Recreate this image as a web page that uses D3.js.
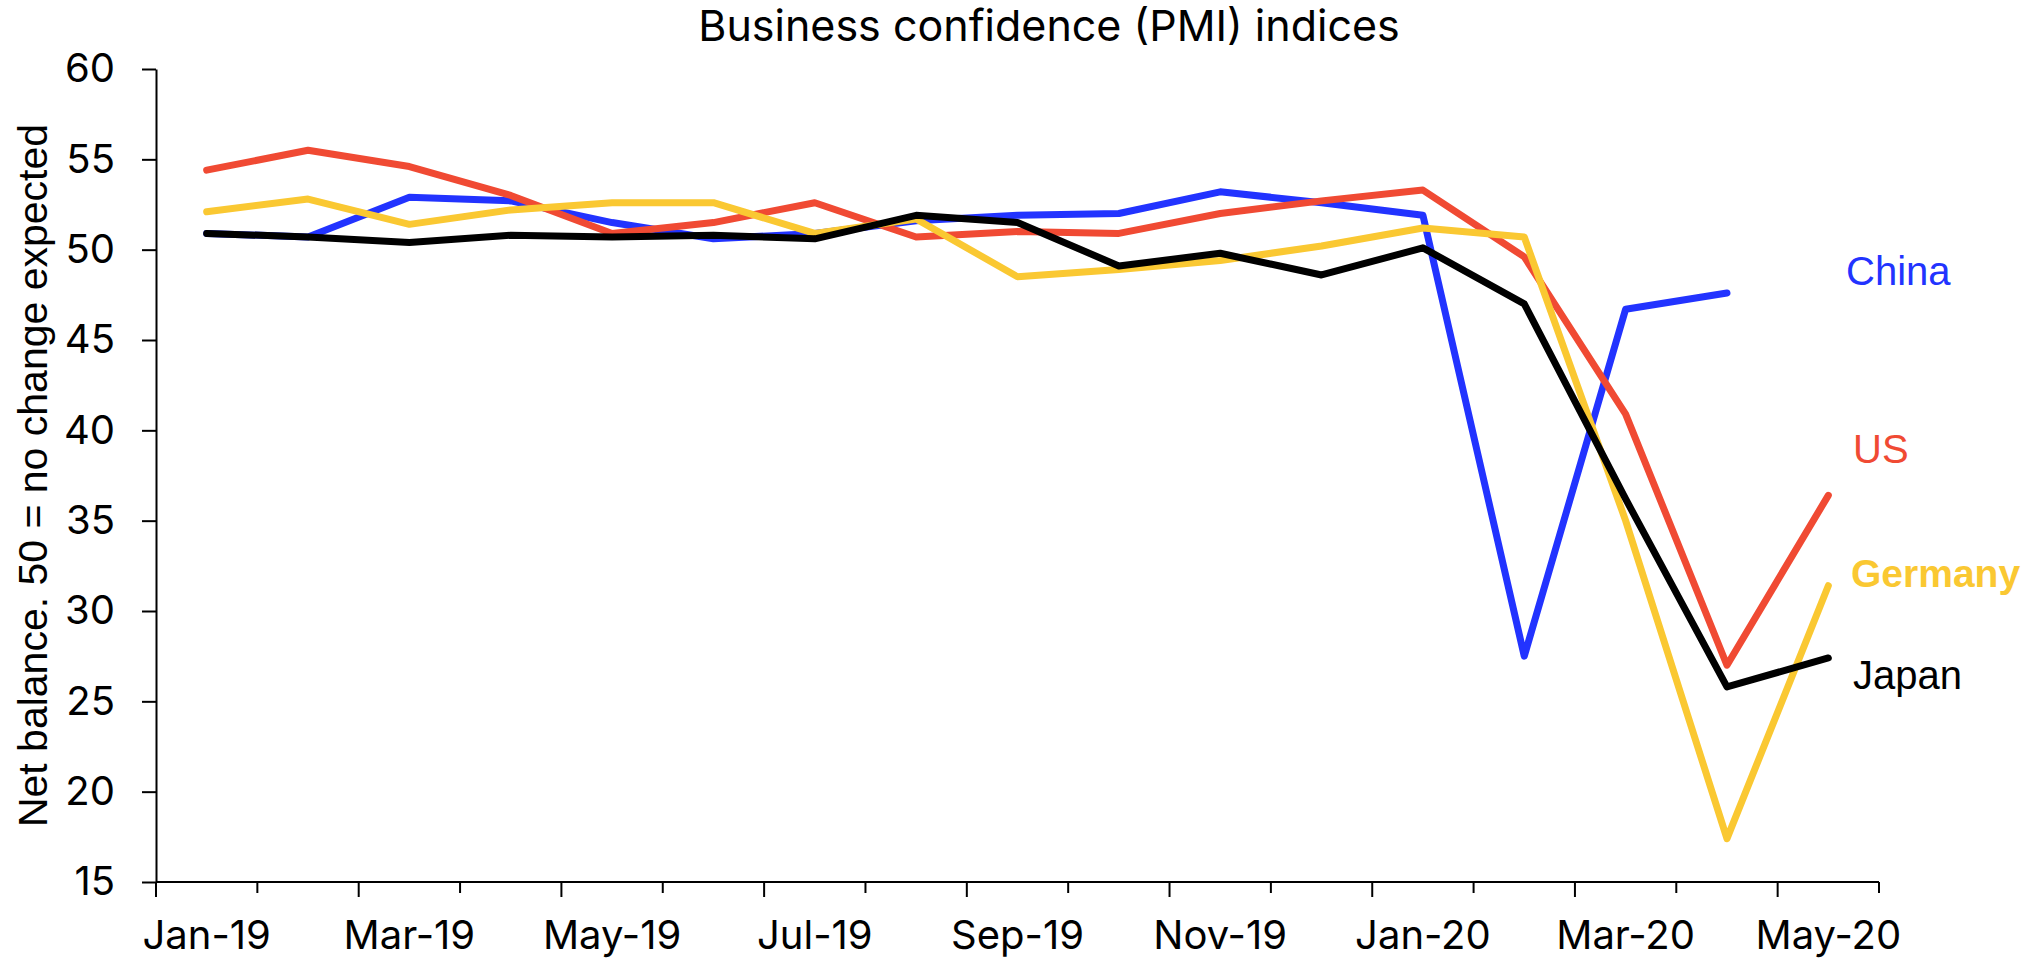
<!DOCTYPE html>
<html>
<head>
<meta charset="utf-8">
<title>Business confidence (PMI) indices</title>
<style>
  body { margin: 0; background: #fff; }
  svg text { font-family: Inter, "Liberation Sans", Arial, sans-serif; fill: #000; }
</style>
</head>
<body>
<div id="chart"></div>
<script src="https://d3js.org/d3.v7.min.js"></script>
<script>
// months on the category axis
var months = ['Jan-19', 'Feb-19', 'Mar-19', 'Apr-19', 'May-19', 'Jun-19', 'Jul-19', 'Aug-19',
              'Sep-19', 'Oct-19', 'Nov-19', 'Dec-19', 'Jan-20', 'Feb-20', 'Mar-20', 'Apr-20', 'May-20'];
// only every other month gets a label
var xLabels = ['Jan-19', 'Mar-19', 'May-19', 'Jul-19', 'Sep-19', 'Nov-19', 'Jan-20', 'Mar-20', 'May-20'];
var yTicks = [15, 20, 25, 30, 35, 40, 45, 50, 55, 60];

// composite PMI readings
var china   = [50.9, 50.7, 52.9, 52.7, 51.5, 50.6, 50.9, 51.6, 51.9, 52.0, 53.2, 52.6, 51.9, 27.5, 46.7, 47.6];
var us      = [54.4, 55.5, 54.6, 53.0, 50.9, 51.5, 52.6, 50.7, 51.0, 50.9, 52.0, 52.7, 53.3, 49.6, 40.9, 27.0, 36.4];
var germany = [52.1, 52.8, 51.4, 52.2, 52.6, 52.6, 50.9, 51.7, 48.5, 48.9, 49.4, 50.2, 51.2, 50.7, 35.0, 17.4, 31.4];
var japan   = [50.9, 50.7, 50.4, 50.8, 50.7, 50.8, 50.6, 51.9, 51.5, 49.1, 49.8, 48.6, 50.1, 47.0, 36.2, 25.8, 27.4];

var series = [
  { name: 'China',   values: china,   color: '#2233ff', lx: 1846, ly: 285, bold: false },
  { name: 'US',      values: us,      color: '#f04a33', lx: 1853, ly: 463, bold: false },
  { name: 'Germany', values: germany, color: '#fac832', lx: 1851, ly: 587, bold: true },
  { name: 'Japan',   values: japan,   color: '#000000', lx: 1853, ly: 689, bold: false }
];

var width = 2030, height = 963;
var plotLeft = 156, plotRight = 1879, plotTop = 69, plotBottom = 882;

var svg = d3.select('#chart').append('svg')
    .attr('width', width)
    .attr('height', height);

var x = d3.scaleBand().domain(months).range([plotLeft, plotRight]);
var y = d3.scaleLinear().domain([15, 60]).range([plotBottom, plotTop]);
var bw = x.bandwidth();

// title
svg.append('text')
    .attr('x', 1049)
    .attr('y', 41)
    .attr('text-anchor', 'middle')
    .style('font-size', '43px')
    .text('Business confidence (PMI) indices');

// y axis title
svg.append('text')
    .attr('transform', 'translate(47,' + ((plotTop + plotBottom) / 2) + ') rotate(-90)')
    .attr('text-anchor', 'middle')
    .style('font-family', '"Liberation Sans", Arial, sans-serif')
    .style('font-size', '41px')
    .text('Net balance. 50 = no change expected');

// y axis
var yAxis = svg.append('g')
    .attr('transform', 'translate(' + plotLeft + ',0)')
    .call(d3.axisLeft(y).tickValues(yTicks).tickSize(14).tickSizeOuter(0).tickPadding(27));
yAxis.selectAll('path, line').attr('stroke', '#000').attr('stroke-width', 2);
yAxis.selectAll('text').style('font-size', '40px').style('font-family', 'Inter, sans-serif');

// x axis: labels under the month centres
var xAxis = svg.append('g')
    .attr('transform', 'translate(0,' + plotBottom + ')')
    .call(d3.axisBottom(x).tickValues(xLabels).tickSize(0).tickPadding(39));
xAxis.select('.domain').remove();
xAxis.selectAll('text').style('font-size', '40px').style('font-family', 'Inter, sans-serif');

// x axis line and ticks on the month boundaries
svg.append('line')
    .attr('x1', plotLeft).attr('x2', plotRight)
    .attr('y1', plotBottom).attr('y2', plotBottom)
    .attr('stroke', '#000').attr('stroke-width', 2);
svg.append('g').selectAll('line')
    .data(d3.range(months.length + 1))
  .enter().append('line')
    .attr('x1', function(i) { return plotLeft + i * bw; })
    .attr('x2', function(i) { return plotLeft + i * bw; })
    .attr('y1', plotBottom)
    .attr('y2', function(i) { return plotBottom + (i % 2 === 0 ? 15 : 11); })
    .attr('stroke', '#000').attr('stroke-width', 2);

// lines
var line = d3.line()
    .x(function(d, i) { return x(months[i]) + bw / 2; })
    .y(function(d) { return y(d); });

svg.append('g').selectAll('path')
    .data(series)
  .enter().append('path')
    .attr('d', function(s) { return line(s.values); })
    .attr('fill', 'none')
    .attr('stroke', function(s) { return s.color; })
    .attr('stroke-width', 7)
    .attr('stroke-linecap', 'round')
    .attr('stroke-linejoin', 'round');

// series labels
svg.append('g').selectAll('text')
    .data(series)
  .enter().append('text')
    .attr('x', function(s) { return s.lx; })
    .attr('y', function(s) { return s.ly; })
    .style('font-family', '"Liberation Sans", Arial, sans-serif')
    .style('font-size', function(s) { return s.bold ? '39px' : '40px'; })
    .style('font-weight', function(s) { return s.bold ? 'bold' : 'normal'; })
    .style('fill', function(s) { return s.color; })
    .text(function(s) { return s.name; });
</script>
</body>
</html>
